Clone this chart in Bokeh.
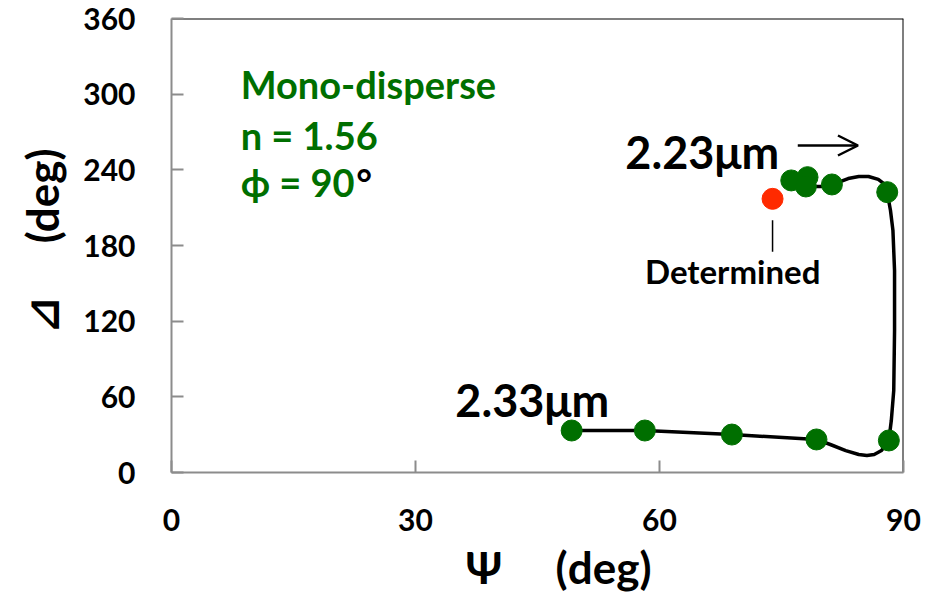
from bokeh.embed import file_html
from bokeh.models import Arrow, FixedTicker, Label, OpenHead, Range1d, Span, Title
from bokeh.plotting import figure
from bokeh.resources import INLINE

# Simulated (Psi, Delta) trajectory for a mono-disperse particle, n = 1.56
curve_psi = [49.2, 58.2, 68.9, 79.3, 81.0, 82.9, 84.5, 85.5, 86.4, 87.3, 88.2,
             88.5, 88.8, 88.9, 88.9, 88.7, 88.4, 88.0, 87.7, 86.9, 85.7,
             84.5, 83.2, 82.3, 81.4, 79.8, 78.0]
curve_delta = [33.3, 33.3, 30.1, 26.2, 22.2, 17.4, 14.3, 13.5, 14.3, 17.4, 25.4,
               41.2, 65.0, 112.6, 160.0, 192.0, 207.8, 222.0, 228.4, 232.4, 234.7,
               234.7, 233.1, 230.8, 228.4, 226.8, 226.8]

# Calculated points along the trajectory
mono_psi = [49.2, 58.2, 68.9, 79.3, 88.2, 76.2, 78.2, 78.0, 81.2, 88.0]
mono_delta = [33.3, 33.3, 30.1, 26.2, 25.4, 231.6, 234.2, 226.8, 228.4, 222.3]

# Measured / determined point
det_psi = [73.9]
det_delta = [217.0]

x_ticks = [0, 30, 60, 90]
y_ticks = [0, 60, 120, 180, 240, 300, 360]

FONT = "Lato, 'Noto Sans', 'DejaVu Sans', sans-serif"
GREEN = "#006F00"
RED = "#FF2A00"
GRAY = "#8C8C8C"
NB = "\u00a0"

p = figure(width=932, height=603, output_backend="svg", toolbar_location=None,
           x_range=Range1d(0, 90), y_range=Range1d(0, 360),
           min_border_left=171, min_border_right=29, min_border_top=18,
           min_border_bottom=131)
p.outline_line_color = None
p.grid.visible = False
p.background_fill_color = "white"
p.border_fill_color = "white"

for ax, ticks in ((p.xaxis[0], x_ticks), (p.yaxis[0], y_ticks)):
    ax.ticker = FixedTicker(ticks=ticks)
    ax.axis_line_color = GRAY
    ax.axis_line_width = 2
    ax.major_tick_line_color = GRAY
    ax.major_tick_line_width = 2
    ax.major_tick_in = 12
    ax.major_tick_out = 0
    ax.minor_tick_line_color = None
    ax.major_label_text_font = FONT
    ax.major_label_text_font_style = "bold"
    ax.major_label_text_font_size = "30px"
    ax.major_label_text_color = "black"
p.xaxis.major_label_standoff = 36
p.yaxis.major_label_standoff = 36

# axis titles
p.add_layout(Title(text="\u03a8" + NB * 5 + "(deg)", align="left", offset=294,
                   standoff=11, text_font=FONT, text_font_size="44px",
                   text_font_style="bold", text_color="black"), "below")
p.add_layout(Title(text="\u22bf" + NB * 5 + "(deg)", align="left", offset=139,
                   standoff=25, text_font=FONT, text_font_size="44px",
                   text_font_style="bold", text_color="black"), "left")

# top and right frame edges in black
p.add_layout(Span(location=360, dimension="width", line_color="black",
                  line_width=2, level="underlay"))
p.add_layout(Span(location=90, dimension="height", line_color="black",
                  line_width=2, level="underlay"))

p.line(curve_psi, curve_delta, line_color="black", line_width=3.5)
p.scatter(mono_psi, mono_delta, size=21, color=GREEN)
p.scatter(det_psi, det_delta, size=21, color=RED)

# pointer from the "Determined" caption up to the red point
p.segment(x0=det_psi, y0=[det_delta[0] - 17], x1=det_psi, y1=[det_delta[0] - 42],
          line_color="black", line_width=1.5)


def label(x, y, text, size, color="black", align="left"):
    p.add_layout(Label(x=x, y=y, text=text, text_font=FONT,
                       text_font_size=size, text_font_style="bold",
                       text_color=color, text_align=align,
                       text_baseline="alphabetic"))


label(8.5, 307.7, "Mono-disperse", "38px", GREEN)
label(8.5, 268.0, "n = 1.56", "38px", GREEN)
label(8.5, 230.0, "\u03d5 = 90", "38px", GREEN)
label(22.7, 230.0, "\u00b0", "38px")

label(55.8, 253.8, "2.23\u03bcm", "45px")
label(34.9, 57.1, "2.33\u03bcm", "45px")
label(69.0, 159.4, "Determined", "33px", align="center")

p.add_layout(Arrow(end=OpenHead(size=20, line_width=2.5, line_color="black"),
                   x_start=77.0, y_start=259.3, x_end=84.4, y_end=259.3,
                   line_width=2.5, line_color="black"))

open("out.html", "w").write(file_html(p, INLINE))
